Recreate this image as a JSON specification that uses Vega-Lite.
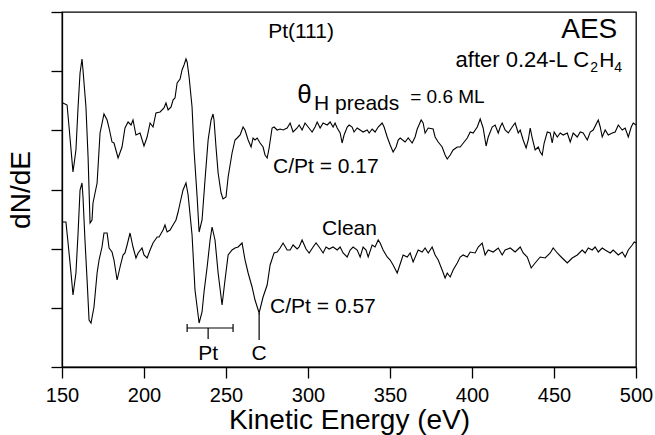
{
  "$schema": "https://vega.github.io/schema/vega-lite/v6.json",
  "width": 574,
  "height": 355,
  "autosize": {"type": "none"},
  "padding": {"left": 62, "top": 12, "right": 19, "bottom": 68},
  "background": "white",
  "config": {
    "view": {"stroke": "black", "strokeWidth": 1.3},
    "font": "Liberation Sans",
    "text": {"font": "Liberation Sans", "color": "black"}
  },
  "datasets": {
    "upper": [
      {"E":150.6,"I":264},{"E":153.1,"I":262},{"E":154.3,"I":240},{"E":156.7,"I":195},{"E":158.5,"I":217},{"E":159.8,"I":260},{"E":161.0,"I":294},{"E":162.2,"I":308},{"E":162.8,"I":297},{"E":164.6,"I":260},{"E":165.9,"I":210},{"E":167.1,"I":144},{"E":168.3,"I":147},{"E":168.9,"I":164},{"E":171.4,"I":184},{"E":173.2,"I":234},{"E":175.6,"I":253},{"E":177.5,"I":247},{"E":178.7,"I":239},{"E":180.5,"I":225},{"E":181.7,"I":224},{"E":184.2,"I":209},{"E":186.6,"I":220},{"E":188.4,"I":239},{"E":190.3,"I":245},{"E":192.1,"I":242},{"E":193.3,"I":247},{"E":195.1,"I":232},{"E":197.6,"I":234},{"E":200.0,"I":221},{"E":201.9,"I":230},{"E":203.7,"I":244},{"E":205.5,"I":240},{"E":207.3,"I":254},{"E":209.8,"I":255},{"E":212.2,"I":259},{"E":213.4,"I":264},{"E":214.7,"I":257},{"E":216.5,"I":260},{"E":217.7,"I":267},{"E":218.9,"I":269},{"E":220.2,"I":284},{"E":222.0,"I":288},{"E":223.2,"I":297},{"E":224.4,"I":302},{"E":225.6,"I":308},{"E":226.3,"I":305},{"E":227.5,"I":290},{"E":229.3,"I":260},{"E":230.5,"I":217},{"E":232.4,"I":170},{"E":233.6,"I":135},{"E":235.4,"I":147},{"E":237.2,"I":187},{"E":239.1,"I":227},{"E":240.9,"I":247},{"E":242.1,"I":253},{"E":242.7,"I":247},{"E":243.9,"I":220},{"E":245.2,"I":194},{"E":247.0,"I":174},{"E":248.2,"I":168},{"E":250.0,"I":170},{"E":251.3,"I":190},{"E":253.7,"I":214},{"E":255.5,"I":227},{"E":256.8,"I":229},{"E":258.6,"I":232},{"E":260.4,"I":240},{"E":261.6,"I":237},{"E":263.5,"I":227},{"E":265.3,"I":220},{"E":266.5,"I":229},{"E":267.7,"I":227},{"E":269.0,"I":229},{"E":270.8,"I":224},{"E":272.6,"I":220},{"E":273.8,"I":212},{"E":275.1,"I":209},{"E":276.3,"I":219},{"E":278.1,"I":239},{"E":279.3,"I":240},{"E":281.2,"I":237},{"E":283.0,"I":238},{"E":284.8,"I":237},{"E":287.3,"I":239},{"E":289.1,"I":244},{"E":290.9,"I":235},{"E":293.4,"I":239},{"E":294.6,"I":242},{"E":296.4,"I":237},{"E":298.2,"I":244},{"E":300.1,"I":240},{"E":302.5,"I":235},{"E":304.3,"I":240},{"E":305.6,"I":245},{"E":307.4,"I":239},{"E":309.2,"I":244},{"E":311.7,"I":242},{"E":313.5,"I":245},{"E":315.3,"I":240},{"E":316.5,"I":244},{"E":317.8,"I":239},{"E":319.6,"I":234},{"E":320.8,"I":224},{"E":322.0,"I":232},{"E":323.9,"I":240},{"E":325.1,"I":242},{"E":326.9,"I":240},{"E":328.1,"I":235},{"E":330.0,"I":239},{"E":331.8,"I":237},{"E":333.6,"I":235},{"E":336.1,"I":237},{"E":337.3,"I":234},{"E":339.1,"I":238},{"E":340.9,"I":235},{"E":342.8,"I":240},{"E":345.2,"I":244},{"E":346.4,"I":240},{"E":348.3,"I":230},{"E":350.1,"I":222},{"E":351.9,"I":215},{"E":353.7,"I":220},{"E":355.0,"I":227},{"E":356.2,"I":229},{"E":359.2,"I":225},{"E":361.1,"I":229},{"E":363.5,"I":224},{"E":365.3,"I":230},{"E":366.6,"I":238},{"E":369.0,"I":247},{"E":370.2,"I":244},{"E":371.4,"I":234},{"E":373.3,"I":239},{"E":376.3,"I":238},{"E":377.5,"I":230},{"E":379.4,"I":225},{"E":381.8,"I":220},{"E":383.6,"I":212},{"E":384.9,"I":208},{"E":386.7,"I":212},{"E":388.5,"I":217},{"E":391.0,"I":220},{"E":392.8,"I":220},{"E":395.2,"I":225},{"E":397.1,"I":229},{"E":398.9,"I":235},{"E":400.7,"I":234},{"E":403.2,"I":240},{"E":405.0,"I":248},{"E":406.8,"I":239},{"E":408.6,"I":221},{"E":409.9,"I":230},{"E":412.3,"I":240},{"E":414.1,"I":242},{"E":416.0,"I":234},{"E":417.2,"I":240},{"E":418.4,"I":244},{"E":420.2,"I":237},{"E":422.1,"I":234},{"E":423.3,"I":237},{"E":424.5,"I":240},{"E":426.3,"I":244},{"E":428.2,"I":234},{"E":429.4,"I":237},{"E":431.2,"I":227},{"E":433.0,"I":219},{"E":434.3,"I":227},{"E":435.5,"I":239},{"E":436.7,"I":229},{"E":438.5,"I":217},{"E":440.4,"I":220},{"E":441.6,"I":215},{"E":442.8,"I":212},{"E":444.0,"I":224},{"E":445.9,"I":235},{"E":447.7,"I":234},{"E":448.9,"I":224},{"E":450.1,"I":235},{"E":452.0,"I":230},{"E":453.8,"I":234},{"E":455.6,"I":232},{"E":458.1,"I":234},{"E":459.9,"I":225},{"E":461.7,"I":234},{"E":464.2,"I":230},{"E":466.0,"I":235},{"E":467.8,"I":234},{"E":470.3,"I":227},{"E":472.1,"I":235},{"E":473.9,"I":237},{"E":477.0,"I":247},{"E":478.2,"I":240},{"E":479.4,"I":230},{"E":481.2,"I":237},{"E":483.1,"I":232},{"E":485.5,"I":234},{"E":487.3,"I":235},{"E":489.2,"I":242},{"E":491.6,"I":237},{"E":493.4,"I":239},{"E":495.3,"I":230},{"E":497.1,"I":240},{"E":498.3,"I":244},{"E":500.0,"I":242}
    ],
    "lower": [
      {"E":150.6,"I":145},{"E":152.4,"I":145},{"E":153.7,"I":124},{"E":155.5,"I":94},{"E":156.7,"I":72},{"E":158.5,"I":94},{"E":159.8,"I":134},{"E":161.0,"I":177},{"E":162.2,"I":184},{"E":162.8,"I":170},{"E":164.0,"I":127},{"E":165.3,"I":87},{"E":166.5,"I":47},{"E":167.7,"I":44},{"E":169.5,"I":60},{"E":171.4,"I":94},{"E":172.6,"I":107},{"E":174.4,"I":120},{"E":175.6,"I":134},{"E":177.5,"I":134},{"E":178.7,"I":119},{"E":180.5,"I":115},{"E":181.7,"I":107},{"E":183.6,"I":87},{"E":185.4,"I":100},{"E":187.2,"I":112},{"E":188.4,"I":114},{"E":189.7,"I":122},{"E":191.5,"I":134},{"E":193.3,"I":120},{"E":195.1,"I":109},{"E":196.4,"I":114},{"E":198.8,"I":119},{"E":200.0,"I":112},{"E":201.9,"I":109},{"E":203.7,"I":117},{"E":205.5,"I":124},{"E":208.0,"I":130},{"E":209.2,"I":130},{"E":211.6,"I":137},{"E":212.8,"I":142},{"E":214.1,"I":135},{"E":215.9,"I":137},{"E":217.7,"I":142},{"E":219.5,"I":147},{"E":220.8,"I":155},{"E":222.0,"I":164},{"E":223.8,"I":177},{"E":225.6,"I":184},{"E":226.9,"I":172},{"E":229.3,"I":132},{"E":231.1,"I":77},{"E":233.6,"I":44},{"E":235.4,"I":55},{"E":236.6,"I":75},{"E":238.5,"I":100},{"E":240.3,"I":127},{"E":241.5,"I":140},{"E":243.3,"I":127},{"E":245.2,"I":94},{"E":247.6,"I":62},{"E":249.4,"I":87},{"E":251.3,"I":112},{"E":253.7,"I":117},{"E":255.5,"I":119},{"E":257.4,"I":120},{"E":258.6,"I":122},{"E":259.8,"I":124},{"E":261.6,"I":107},{"E":263.5,"I":94},{"E":265.9,"I":80},{"E":267.7,"I":67},{"E":270.2,"I":54},{"E":272.6,"I":70},{"E":275.1,"I":82},{"E":276.9,"I":102},{"E":279.3,"I":114},{"E":281.2,"I":115},{"E":283.0,"I":119},{"E":284.8,"I":124},{"E":287.3,"I":117},{"E":289.1,"I":117},{"E":290.9,"I":122},{"E":293.4,"I":118},{"E":294.6,"I":120},{"E":296.4,"I":127},{"E":298.8,"I":118},{"E":300.7,"I":114},{"E":303.1,"I":120},{"E":304.9,"I":124},{"E":306.8,"I":120},{"E":309.2,"I":114},{"E":311.0,"I":120},{"E":312.9,"I":118},{"E":315.3,"I":120},{"E":317.8,"I":117},{"E":319.6,"I":120},{"E":321.4,"I":114},{"E":323.9,"I":110},{"E":325.7,"I":117},{"E":327.5,"I":120},{"E":330.0,"I":117},{"E":331.8,"I":110},{"E":333.6,"I":120},{"E":335.4,"I":117},{"E":336.7,"I":110},{"E":339.1,"I":122},{"E":340.9,"I":120},{"E":342.8,"I":127},{"E":344.0,"I":124},{"E":345.8,"I":117},{"E":348.3,"I":110},{"E":350.1,"I":107},{"E":351.9,"I":102},{"E":354.4,"I":94},{"E":355.6,"I":100},{"E":358.0,"I":112},{"E":360.5,"I":110},{"E":362.3,"I":114},{"E":364.1,"I":105},{"E":367.2,"I":117},{"E":369.6,"I":115},{"E":371.4,"I":119},{"E":373.3,"I":114},{"E":375.7,"I":120},{"E":377.5,"I":112},{"E":379.4,"I":107},{"E":381.8,"I":97},{"E":383.6,"I":89},{"E":384.9,"I":94},{"E":386.7,"I":90},{"E":388.5,"I":97},{"E":391.0,"I":104},{"E":392.8,"I":110},{"E":394.6,"I":112},{"E":397.1,"I":110},{"E":398.9,"I":115},{"E":401.9,"I":114},{"E":403.8,"I":120},{"E":406.2,"I":124},{"E":408.0,"I":112},{"E":409.9,"I":117},{"E":412.9,"I":115},{"E":416.0,"I":119},{"E":418.4,"I":112},{"E":420.2,"I":117},{"E":423.3,"I":119},{"E":426.3,"I":115},{"E":429.4,"I":120},{"E":431.2,"I":114},{"E":433.7,"I":110},{"E":436.1,"I":99},{"E":438.5,"I":104},{"E":441.6,"I":110},{"E":444.6,"I":109},{"E":447.7,"I":114},{"E":449.5,"I":119},{"E":452.0,"I":114},{"E":455.0,"I":109},{"E":458.1,"I":104},{"E":461.1,"I":109},{"E":464.2,"I":112},{"E":467.2,"I":117},{"E":469.0,"I":114},{"E":470.9,"I":119},{"E":473.3,"I":117},{"E":475.1,"I":120},{"E":477.0,"I":115},{"E":479.4,"I":119},{"E":481.2,"I":117},{"E":484.3,"I":114},{"E":486.1,"I":117},{"E":489.2,"I":112},{"E":491.6,"I":115},{"E":493.4,"I":110},{"E":495.3,"I":117},{"E":497.7,"I":122},{"E":498.9,"I":125},{"E":500.0,"I":124}
    ]
  },
  "layer": [
    {
      "data": {"name": "upper"},
      "mark": {"type": "line", "color": "black", "strokeWidth": 1.1, "clip": true},
      "encoding": {
        "x": {"field": "E", "type": "quantitative",
          "scale": {"domain": [150, 500], "nice": false, "zero": false},
          "axis": {"values": [150, 200, 250, 300, 350, 400, 450, 500], "title": "Kinetic Energy (eV)",
            "grid": false, "tickSize": 11, "tickColor": "black", "tickWidth": 1.3, "domainColor": "black", "domainWidth": 1.3,
            "labelFontSize": 20, "labelColor": "black", "labelPadding": 7, "labelFlush": false, "labelOverlap": false,
            "labelFont": "Liberation Sans", "titleFont": "Liberation Sans",
            "titleFontSize": 28, "titleFontWeight": "normal", "titleColor": "black", "titlePadding": 1}},
        "y": {"field": "I", "type": "quantitative",
          "scale": {"domain": [0, 355], "nice": false, "zero": false},
          "axis": {"values": [0, 59.17, 118.33, 177.5, 236.67, 295.83, 355], "labels": false, "title": "dN/dE",
            "grid": false, "tickSize": 11, "tickColor": "black", "tickWidth": 1.3, "domainColor": "black", "domainWidth": 1.3,
            "titleFont": "Liberation Sans", "titleFontSize": 28, "titleFontWeight": "normal", "titleColor": "black", "titlePadding": 15}}
      }
    },
    {
      "data": {"name": "lower"},
      "mark": {"type": "line", "color": "black", "strokeWidth": 1.1, "clip": true},
      "encoding": {
        "x": {"field": "E", "type": "quantitative"},
        "y": {"field": "I", "type": "quantitative"}
      }
    },
    {
      "data": {"values": [
        {"E": 226.3, "I": 39, "E2": 254.3, "I2": 39},
        {"E": 226.3, "I": 43, "E2": 226.3, "I2": 35},
        {"E": 254.3, "I": 43, "E2": 254.3, "I2": 35},
        {"E": 239.1, "I": 39, "E2": 239.1, "I2": 28},
        {"E": 270.2, "I": 54, "E2": 270.2, "I2": 27}
      ]},
      "mark": {"type": "rule", "color": "black", "strokeWidth": 1.2},
      "encoding": {
        "x": {"field": "E", "type": "quantitative"},
        "y": {"field": "I", "type": "quantitative"},
        "x2": {"field": "E2"},
        "y2": {"field": "I2"}
      }
    },
    {
      "data": {"values": [
        {"E": 275.7, "I": 329, "t": "Pt(111)"},
        {"E": 303.7, "I": 257, "t": "H preads"},
        {"E": 278.7, "I": 194, "t": "C/Pt = 0.17"},
        {"E": 308.6, "I": 132, "t": "Clean"},
        {"E": 276.9, "I": 54, "t": "C/Pt = 0.57"},
        {"E": 477.6, "I": 300, "t": "H"}
      ]},
      "mark": {"type": "text", "fontSize": 21, "align": "left", "baseline": "alphabetic", "color": "black"},
      "encoding": {
        "x": {"field": "E", "type": "quantitative"},
        "y": {"field": "I", "type": "quantitative"},
        "text": {"field": "t"}
      }
    },
    {
      "data": {"values": [
        {"E": 471.5, "I": 300, "t": "after 0.24-L C"}
      ]},
      "mark": {"type": "text", "fontSize": 22, "align": "right", "baseline": "alphabetic", "color": "black"},
      "encoding": {
        "x": {"field": "E", "type": "quantitative"},
        "y": {"field": "I", "type": "quantitative"},
        "text": {"field": "t"}
      }
    },
    {
      "data": {"values": [
        {"E": 362.3, "I": 264, "t": "= 0.6 ML"}
      ]},
      "mark": {"type": "text", "fontSize": 19, "align": "left", "baseline": "alphabetic", "color": "black"},
      "encoding": {
        "x": {"field": "E", "type": "quantitative"},
        "y": {"field": "I", "type": "quantitative"},
        "text": {"field": "t"}
      }
    },
    {
      "data": {"values": [
        {"E": 239.1, "I": 7, "t": "Pt"},
        {"E": 270.2, "I": 7, "t": "C"}
      ]},
      "mark": {"type": "text", "fontSize": 21, "align": "center", "baseline": "alphabetic", "color": "black"},
      "encoding": {
        "x": {"field": "E", "type": "quantitative"},
        "y": {"field": "I", "type": "quantitative"},
        "text": {"field": "t"}
      }
    },
    {
      "data": {"values": [
        {"E": 472.1, "I": 295, "t": "2"},
        {"E": 486.7, "I": 295, "t": "4"}
      ]},
      "mark": {"type": "text", "fontSize": 14, "align": "left", "baseline": "alphabetic", "color": "black"},
      "encoding": {
        "x": {"field": "E", "type": "quantitative"},
        "y": {"field": "I", "type": "quantitative"},
        "text": {"field": "t"}
      }
    },
    {
      "data": {"values": [{"E": 488.6, "I": 329, "t": "AES"}]},
      "mark": {"type": "text", "fontSize": 28, "align": "right", "baseline": "alphabetic", "color": "black"},
      "encoding": {
        "x": {"field": "E", "type": "quantitative"},
        "y": {"field": "I", "type": "quantitative"},
        "text": {"field": "t"}
      }
    },
    {
      "data": {"values": [{"E": 293.4, "I": 264, "t": "θ"}]},
      "mark": {"type": "text", "fontSize": 26, "align": "left", "baseline": "alphabetic", "color": "black"},
      "encoding": {
        "x": {"field": "E", "type": "quantitative"},
        "y": {"field": "I", "type": "quantitative"},
        "text": {"field": "t"}
      }
    }
  ]
}
